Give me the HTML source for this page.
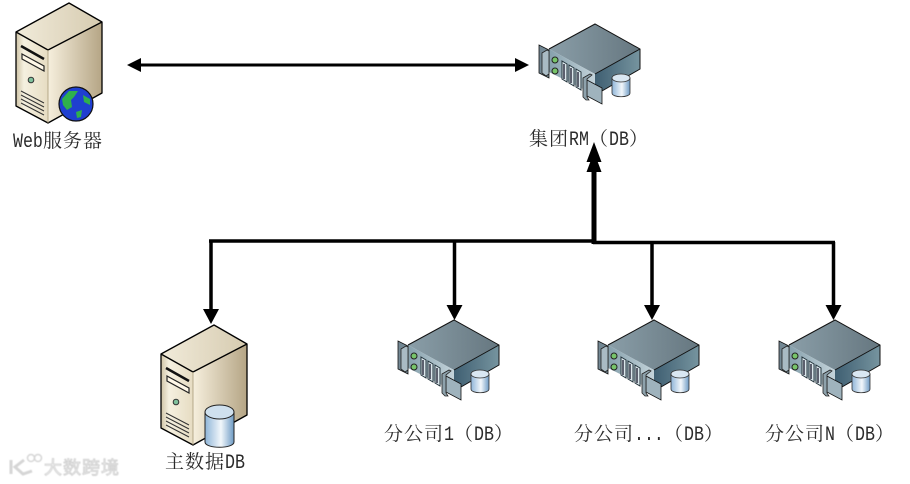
<!DOCTYPE html>
<html><head><meta charset="utf-8"><style>
html,body{margin:0;padding:0;background:#fff}
svg{display:block}
text{font-family:"Noto Serif CJK SC","Liberation Serif",serif;font-size:19px;fill:#2b2b2b}
text.l{font-family:"Liberation Mono",monospace;font-size:20px}
</style></head><body>
<svg width="910" height="484" viewBox="0 0 910 484" xmlns="http://www.w3.org/2000/svg">
<defs>
<linearGradient id="tf" x1="0" y1="0" x2="1" y2="0"><stop offset="0" stop-color="#cfc4a6"/><stop offset=".25" stop-color="#f5f0e0"/><stop offset="1" stop-color="#e6dcc2"/></linearGradient>
<linearGradient id="ts" x1="0" y1="0" x2="1" y2="0"><stop offset="0" stop-color="#f6efdd"/><stop offset="1" stop-color="#b5a585"/></linearGradient>
<linearGradient id="tt" x1="0" y1="0" x2="1" y2="0"><stop offset="0" stop-color="#f1ebda"/><stop offset="1" stop-color="#d6cbb0"/></linearGradient>
<linearGradient id="rt" x1="0" y1="0" x2="1" y2="0"><stop offset="0" stop-color="#8a9ea8"/><stop offset="1" stop-color="#667780"/></linearGradient>
<linearGradient id="rs" x1="0" y1="0" x2="1" y2="0"><stop offset="0" stop-color="#3f5f72"/><stop offset="1" stop-color="#76949f"/></linearGradient>
<linearGradient id="rf" x1="0" y1="0" x2="1" y2="0"><stop offset="0" stop-color="#86a0ac"/><stop offset="1" stop-color="#c3d3da"/></linearGradient>
<linearGradient id="cy" x1="0" y1="0" x2="1" y2="0"><stop offset="0" stop-color="#8fb5d8"/><stop offset=".55" stop-color="#f2f7fb"/><stop offset="1" stop-color="#6d9ac4"/></linearGradient>
<filter id="bl"><feGaussianBlur stdDeviation=".5"/></filter>
<g id="tower">
<path d="M16 32 69 3 102 22 48 50Z" fill="url(#tt)"/>
<path d="M16 32 48 50 48 123 16 106Z" fill="url(#tf)"/>
<path d="M48 50 102 22 102 93 48 123Z" fill="url(#ts)"/>
<path d="M16 32 69 3 102 22 102 93 48 123 16 106Z M16 32 48 50 102 22" fill="none" stroke="#000" stroke-width="1.300" stroke-linejoin="round"/>
<path d="M48 50V123" stroke="#a89a78" stroke-width=".8"/>
<path d="M21 46 44 59" stroke="#111" stroke-width="2.500"/>
<path d="M22 54 44 66V71L22 59Z" fill="#fff8e8" stroke="#222" stroke-width="1.200"/>
<circle cx="31" cy="80" r="2.800" fill="#7fc09c" stroke="#333"/>
<path d="M21 91 44 103M21 95 44 107M21 99 44 111M21 103 44 115" stroke="#333" stroke-width="1"/>
</g>
<g id="rack">
<path d="M408 345 454 320 499 345 454 370Z" fill="url(#rt)"/>
<path d="M454 370 499 345V365L454 391Z" fill="url(#rs)"/>
<path d="M408 345 454 370V391L408 368Z" fill="url(#rf)"/>
<path d="M408 345 454 320 499 345V365L461 387M499 345 454 370" fill="none" stroke="#111" stroke-width="1"/>
<path d="M398 341 408 346V374L398 369Z" fill="#738894" stroke="#111" stroke-width=".8"/>
<path d="M401 349 406 346 408 347V370L405 372 401 369Z" fill="#a9bbc4" stroke="#222" stroke-width=".8"/>
<path d="M446 376 461 384V400L446 392Z" fill="#9fb3bd" stroke="#111" stroke-width=".8"/>
<path d="M442 374 449 370 451 371 446 375V393L448 396 445 396 442 393Z" fill="#8ea2ac" stroke="#222" stroke-width=".8"/>
<circle cx="414" cy="356" r="3" fill="#77c46a" stroke="#222"/>
<circle cx="414" cy="367" r="3" fill="#77c46a" stroke="#222"/>
<path d="M421 357 426 360V378L421 375ZM428 361 433 364V382L428 379ZM435 365 440 368V386L435 383Z" fill="#dbe7ec" stroke="#24343c" stroke-width="1"/>
<path d="M423 360V375M430 364V379M437 368V383" stroke="#334" stroke-width="1.500"/>
<path d="M471 374V389C471 394 489 394 489 389V374Z" fill="url(#cy)" stroke="#333" stroke-width=".8"/>
<ellipse cx="480" cy="374" rx="9" ry="4" fill="#d9e7f2" stroke="#333" stroke-width=".8"/>
</g>
</defs>

<use href="#tower"/>
<circle cx="76" cy="104" r="17" fill="#1f3fd0" stroke="#111" stroke-width="1.200"/>
<path d="M62 99 69 91 78 91 74 97 71 100 72 107 67 110 63 105ZM83 95 90 99 90 105 84 102ZM76 112 82 110 81 117 77 118Z" fill="#2fb04c"/>

<use href="#tower" x="145" y="322"/>
<path d="M205 412V442C205 449 234 449 234 442V412Z" fill="url(#cy)" stroke="#222" stroke-width="1"/>
<ellipse cx="219.500" cy="412" rx="14.500" ry="7" fill="#cfe0ee" stroke="#222" stroke-width="1"/>

<use href="#rack"/>
<use href="#rack" x="200"/>
<use href="#rack" x="381"/>
<use href="#rack" x="141" y="-296"/>

<g fill="none" stroke="#000">
<path d="M135 65H521" stroke-width="3"/>
<path d="M209 241H595" stroke-width="3.500"/>
<path d="M593 242.500H835" stroke-width="3.500"/>
<path d="M594 244V165" stroke-width="5"/>
<path d="M211 241V310M454.500 241V308M652 242V308M833.500 242V308" stroke-width="3.500"/>
</g>
<g fill="#000">
<path d="M127 65 141 58V72Z"/>
<path d="M529 65 515 58V72Z"/>
<path d="M594 142 601.500 162H586.500Z"/>
<path d="M594 152 601.500 172H586.500Z"/>
<path d="M211 324 203 309H219Z"/>
<path d="M454.500 320 446.500 305H462.500Z"/>
<path d="M652 320 644 305H660Z"/>
<path d="M833.500 320 825.500 305H841.500Z"/>
</g>

<text class="l" transform="translate(13 147) scale(.83 1)">Web</text>
<text y="147" x="43 63 83">服务器</text>

<text y="145" x="529 549">集团</text>
<text class="l" transform="translate(569 145) scale(.83 1)">RM</text>
<text y="145" x="589">（</text>
<text class="l" transform="translate(609 145) scale(.83 1)">DB</text>
<text y="145" x="629">）</text>

<text y="468" x="165 185 205">主数据</text>
<text class="l" transform="translate(225 468) scale(.83 1)">DB</text>

<text y="440" x="384 404 424">分公司</text>
<text class="l" transform="translate(444 440) scale(.83 1)">1</text>
<text y="440" x="454">（</text>
<text class="l" transform="translate(474 440) scale(.83 1)">DB</text>
<text y="440" x="494">）</text>

<text y="440" x="574 594 614">分公司</text>
<text class="l" transform="translate(634 440) scale(.83 1)">...</text>
<text y="440" x="664">（</text>
<text class="l" transform="translate(684 440) scale(.83 1)">DB</text>
<text y="440" x="704">）</text>

<text y="440" x="765 785 805">分公司</text>
<text class="l" transform="translate(825 440) scale(.83 1)">N</text>
<text y="440" x="835">（</text>
<text class="l" transform="translate(855 440) scale(.83 1)">DB</text>
<text y="440" x="875">）</text>

<g filter="url(#bl)">
<path d="M11 460V474M24 460 15 467 23 474 32 471" fill="none" stroke="#d6d6d6" stroke-width="3"/>
<circle cx="31" cy="458" r="3.500" fill="none" stroke="#d6d6d6" stroke-width="1.500"/>
<circle cx="38" cy="458" r="3.500" fill="none" stroke="#d6d6d6" stroke-width="1.500"/>
<text x="44" y="474" textLength="75" style="font-family:'Noto Sans CJK SC',sans-serif;font-size:18px;fill:#f4f4f4;stroke:#cfcfcf;stroke-width:.8px">大数跨境</text>
</g>
</svg>
</body></html>
